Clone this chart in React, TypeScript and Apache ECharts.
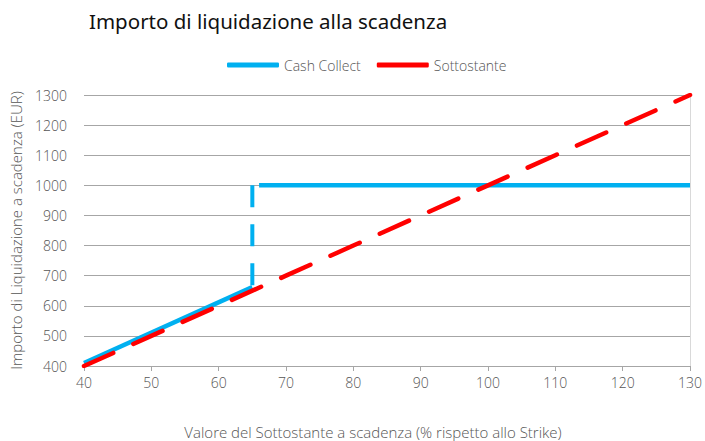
import React, { useEffect, useRef } from "react";
import * as echarts from "echarts";

const titleText = "Importo di liquidazione alla scadenza";
const xAxisName = "Valore del Sottostante a scadenza (% rispetto allo Strike)";
const yAxisName = "Importo di Liquidazione a scadenza (EUR)";

// Cash Collect: below barrier (linear), jump at barrier, above barrier (capped)
const ccLowX = [40, 65];
const ccLowY = [410, 662];
const ccJumpX = [65, 65];
const ccJumpY = [1000, 662];
const ccHighX = [66, 130];
const ccHighY = [1000, 1000];

// Sottostante
const underX = [40, 50, 60, 70, 80, 90, 100, 110, 120, 130];
const underY = [400, 500, 600, 700, 800, 900, 1000, 1100, 1200, 1300];

const BLUE = "#00b0f0";
const RED = "#ff0000";
const GRAY_TEXT = "#555555";
const FONT = "'Open Sans', sans-serif";

const zip = (xs: number[], ys: number[]) => xs.map((x, i) => [x, ys[i]]);

export default function App() {
  const ref = useRef<HTMLDivElement>(null);
  useEffect(() => {
    document.body.style.margin = "0";
    if (!ref.current) return;
    const chart = echarts.init(ref.current, null, { renderer: "svg" });
    const tickStyle = { fontFamily: FONT, fontSize: 14, fontWeight: 300, color: GRAY_TEXT };
    const nameStyle = { fontFamily: FONT, fontSize: 15, fontWeight: 300, color: GRAY_TEXT };
    chart.setOption({
      animation: false,
      backgroundColor: "#ffffff",
      title: {
        text: titleText,
        left: 84,
        top: 5,
        textStyle: { fontFamily: "'Noto Sans', sans-serif", fontSize: 20.5, fontWeight: "normal", color: "#111" },
      },
      legend: {
        left: 222,
        top: 53,
        itemWidth: 52,
        itemHeight: 5,
        itemGap: 16,
        icon: "roundRect",
        data: ["Cash Collect", "Sottostante"],
        textStyle: { fontFamily: FONT, fontSize: 14, fontWeight: 300, color: GRAY_TEXT },
      },
      grid: { left: 84, right: 15, top: 95, bottom: 75, containLabel: false },
      xAxis: {
        type: "value",
        min: 40,
        max: 130,
        interval: 10,
        axisLine: { show: true, lineStyle: { color: "#a6a6a6", width: 1 } },
        axisTick: { show: true, length: 5, lineStyle: { color: "#a6a6a6" } },
        axisLabel: { margin: 9, ...tickStyle },
        splitLine: { show: false },
      },
      yAxis: [
        {
          type: "value",
          min: 400,
          max: 1300,
          interval: 100,
          name: yAxisName,
          nameLocation: "middle",
          nameGap: 61,
          nameTextStyle: { ...nameStyle },
          axisLine: { show: false },
          axisTick: { show: false },
          axisLabel: {
            margin: 17,
            ...tickStyle,
            formatter: (v: number) => String(v),
          },
          splitLine: { show: true, lineStyle: { color: "#a6a6a6", width: 1 } },
        },
        {
          type: "value",
          position: "right",
          min: 400,
          max: 1300,
          interval: 100,
          axisLine: { show: true, lineStyle: { color: "#d9d9d9", width: 1 } },
          axisTick: { show: false },
          axisLabel: { show: false },
          splitLine: { show: false },
        },
      ],
      graphic: [
        {
          type: "text",
          x: 373,
          y: 432,
          style: {
            text: xAxisName,
            fontFamily: FONT,
            fontSize: 15,
            fontWeight: 300,
            fill: GRAY_TEXT,
            textAlign: "center",
            textVerticalAlign: "middle",
          },
        },
      ],
      series: [
        {
          name: "Cash Collect",
          type: "line",
          data: zip(ccLowX, ccLowY),
          showSymbol: false,
          symbol: "none",
          lineStyle: { color: BLUE, width: 4.5 },
          itemStyle: { color: BLUE },
        },
        {
          name: "Cash Collect",
          type: "line",
          data: zip(ccJumpX, ccJumpY),
          showSymbol: false,
          symbol: "none",
          lineStyle: { color: BLUE, width: 4, type: [22, 17] },
          itemStyle: { color: BLUE },
        },
        {
          name: "Cash Collect",
          type: "line",
          data: zip(ccHighX, ccHighY),
          showSymbol: false,
          symbol: "none",
          lineStyle: { color: BLUE, width: 4.5 },
          itemStyle: { color: BLUE },
        },
        {
          name: "Sottostante",
          type: "line",
          data: zip(underX, underY),
          showSymbol: false,
          symbol: "none",
          lineStyle: { color: RED, width: 4.5, type: [32, 22], cap: "round" },
          itemStyle: { color: RED },
        },
      ],
    });
    return () => chart.dispose();
  }, []);
  return <div ref={ref} style={{ width: 705, height: 441 }} />;
}
